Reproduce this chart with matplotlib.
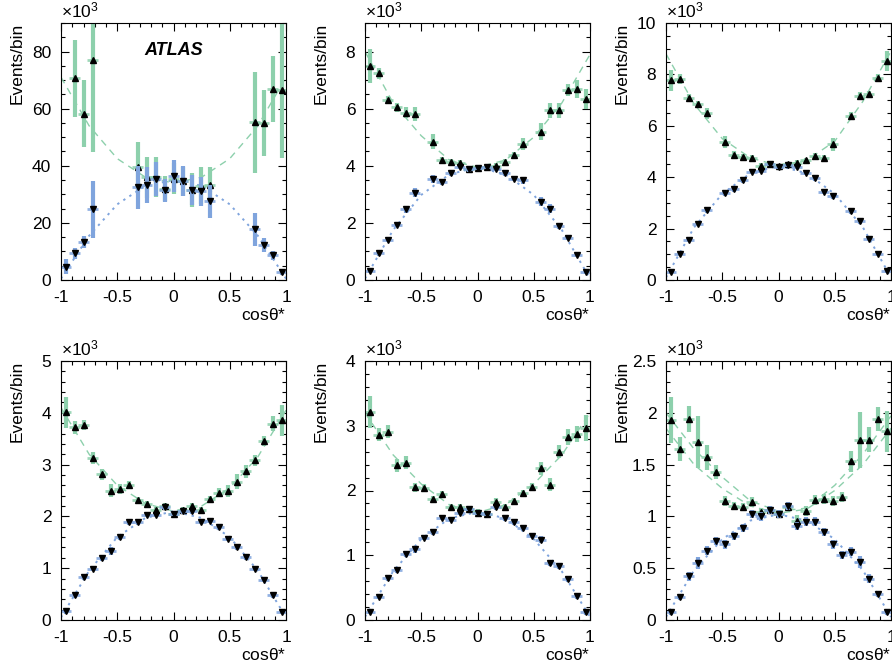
import numpy as np
import matplotlib
matplotlib.use('Agg')
import matplotlib.pyplot as plt
from matplotlib.ticker import MultipleLocator

plt.rcParams['font.family'] = ['Liberation Sans', 'DejaVu Sans']
plt.rcParams['mathtext.fontset'] = 'custom'
plt.rcParams['mathtext.rm'] = 'Liberation Sans'
plt.rcParams['mathtext.default'] = 'regular'

nan = np.nan

# 25 bins of cos(theta*) in [-1, 1]
bin_centers = np.linspace(-0.96, 0.96, 25)
bin_half = 0.045
fit_x = [-1, -0.75, -0.5, -0.25, 0, 0.25, 0.5, 0.75, 1]

# values in units of 10^3 events/bin
g1 = [nan, 70.7, 58.2, 77.2, nan, nan, nan, nan, 39.6, 36.0, 36.0, 32.0, 35.5,
      34.5, 31.5, 33.0, 33.4, nan, nan, nan, nan, 55.3, 55.0, 67.0, 66.6]
g1_err = [nan, 13.5, 11.7, 32.4, nan, nan, nan, nan, 8.7, 7.2, 7.0, 4.5, 5.5,
          5.2, 5.8, 6.5, 6.2, nan, nan, nan, nan, 17.7, 11.5, 11.6, 24.0]
b1 = [4.7, 9.3, 13.3, 24.8, nan, nan, nan, nan, 32.4, 33.1, 35.3, 31.4, 36.4,
      34.7, 31.4, 31.0, 27.5, nan, nan, nan, nan, 17.7, 12.2, 8.6, 2.9]
b1_err = [2.6, 2.0, 2.2, 10.0, nan, nan, nan, nan, 7.5, 6.3, 6.0, 4.0, 5.5,
          5.2, 5.3, 5.0, 5.8, nan, nan, nan, nan, 5.8, 2.5, 1.5, 1.0]
g1_fit = [[71, 54, 42.5, 36, 34, 36, 42.5, 54, 71]]
b1_fit = [0.5, 15.5, 26.5, 33, 35, 33, 26.5, 15.5, 0.5]

g2 = [7.5, 7.24, 6.31, 6.05, 5.86, 5.82, nan, 4.85, 4.19, 4.13, 4.11, 3.88, 3.92,
      3.96, 4.0, 4.13, 4.37, 4.77, nan, 5.2, 5.94, 5.94, 6.66, 6.69, 6.34]
g2_err = [0.6, 0.2, 0.15, 0.15, 0.2, 0.25, nan, 0.25, 0.12, 0.12, 0.1, 0.1, 0.1,
          0.1, 0.1, 0.1, 0.12, 0.2, nan, 0.3, 0.25, 0.25, 0.2, 0.3, 0.35]
b2 = [0.33, 0.93, 1.40, 1.94, 2.47, 3.06, nan, 3.53, 3.43, 3.75, 3.96, 3.87, 3.92,
      3.96, 3.90, 3.73, 3.55, 3.49, nan, 2.74, 2.50, 1.90, 1.48, 0.87, 0.29]
b2_err = [0.08, 0.08, 0.08, 0.1, 0.12, 0.15, nan, 0.15, 0.12, 0.1, 0.08, 0.08, 0.08,
          0.08, 0.1, 0.1, 0.1, 0.12, nan, 0.15, 0.15, 0.1, 0.08, 0.08, 0.08]
g2_fit = [[8.0, 6.2, 5.05, 4.2, 3.95, 4.2, 5.0, 6.2, 7.9]]
b2_fit = [0.05, 1.75, 2.98, 3.7, 3.95, 3.7, 2.98, 1.75, 0.05]

g3 = [7.77, 7.82, 7.10, 6.83, 6.48, nan, 5.37, 4.86, 4.79, 4.75, 4.44, 4.52, 4.42,
      4.50, 4.56, 4.66, 4.84, 4.75, 5.28, nan, 6.39, 7.15, 7.22, 7.86, 8.52]
g3_err = [0.4, 0.2, 0.15, 0.15, 0.2, nan, 0.25, 0.15, 0.1, 0.1, 0.1, 0.1, 0.1,
          0.1, 0.1, 0.1, 0.1, 0.12, 0.25, nan, 0.15, 0.15, 0.15, 0.15, 0.4]
b3 = [0.32, 1.01, 1.55, 2.18, 2.72, nan, 3.39, 3.54, 3.89, 4.21, 4.25, 4.51, 4.40,
      4.47, 4.40, 4.15, 3.95, 3.43, 3.28, nan, 2.68, 2.29, 1.58, 1.01, 0.35]
b3_err = [0.08, 0.08, 0.08, 0.08, 0.1, nan, 0.12, 0.1, 0.1, 0.1, 0.1, 0.08, 0.08,
          0.08, 0.08, 0.08, 0.08, 0.1, 0.12, nan, 0.1, 0.1, 0.08, 0.08, 0.08]
g3_fit = [[8.8, 6.85, 5.5, 4.75, 4.45, 4.65, 5.4, 6.95, 8.9]]
b3_fit = [0.1, 2.05, 3.35, 4.15, 4.45, 4.15, 3.35, 2.05, 0.1]

g4 = [4.01, 3.72, 3.76, 3.13, 2.81, 2.50, 2.53, 2.61, 2.31, 2.24, 2.12, 2.20, 2.05,
      2.12, 2.20, 2.13, 2.34, 2.46, 2.49, 2.67, 2.87, 3.08, 3.46, 3.79, 3.86]
g4_err = [0.3, 0.12, 0.1, 0.12, 0.1, 0.12, 0.1, 0.08, 0.06, 0.06, 0.06, 0.06, 0.06,
          0.06, 0.06, 0.06, 0.06, 0.08, 0.12, 0.15, 0.12, 0.1, 0.1, 0.15, 0.3]
b4 = [0.17, 0.48, 0.83, 0.99, 1.19, 1.33, 1.60, 1.89, 1.89, 2.03, 2.03, 2.18, 2.05,
      2.10, 2.10, 1.90, 1.92, 1.79, 1.57, 1.41, 1.22, 0.99, 0.78, 0.48, 0.16]
b4_err = [0.05, 0.05, 0.05, 0.05, 0.06, 0.08, 0.06, 0.05, 0.05, 0.05, 0.05, 0.05, 0.05,
          0.05, 0.05, 0.05, 0.05, 0.05, 0.05, 0.06, 0.06, 0.05, 0.05, 0.05, 0.05]
g4_fit = [[4.1, 3.2, 2.6, 2.25, 2.1, 2.2, 2.55, 3.15, 4.05]]
b4_fit = [0.05, 0.95, 1.6, 1.97, 2.1, 1.97, 1.6, 0.95, 0.05]

g5 = [3.21, 2.86, 2.91, 2.39, 2.43, 2.05, 2.04, 1.87, 1.95, 1.74, 1.74, 1.71, 1.66,
      1.64, 1.83, 1.74, 1.84, 1.96, 2.05, 2.34, 2.09, 2.60, 2.83, 2.87, 2.97]
g5_err = [0.25, 0.1, 0.1, 0.1, 0.1, 0.07, 0.06, 0.05, 0.05, 0.05, 0.05, 0.05, 0.05,
          0.05, 0.05, 0.05, 0.05, 0.05, 0.06, 0.1, 0.1, 0.1, 0.12, 0.12, 0.2]
b5 = [0.13, 0.36, 0.65, 0.77, 1.02, 1.09, 1.27, 1.36, 1.58, 1.55, 1.66, 1.72, 1.66,
      1.64, 1.74, 1.57, 1.51, 1.42, 1.30, 1.24, 0.88, 0.83, 0.63, 0.37, 0.12]
b5_err = [0.04, 0.04, 0.04, 0.05, 0.05, 0.05, 0.04, 0.04, 0.04, 0.04, 0.04, 0.04, 0.04,
          0.04, 0.04, 0.04, 0.04, 0.04, 0.04, 0.05, 0.05, 0.05, 0.04, 0.04, 0.04]
g5_fit = [[3.2, 2.55, 2.1, 1.78, 1.66, 1.78, 2.1, 2.55, 3.2]]
b5_fit = [0.05, 0.75, 1.25, 1.57, 1.67, 1.57, 1.25, 0.75, 0.05]

g6 = [1.93, 1.65, 1.94, 1.72, 1.57, 1.43, 1.15, 1.10, 1.09, 1.14, 1.04, 1.06, 1.02,
      1.09, 0.96, 1.05, 1.16, 1.17, 1.15, 1.19, 1.53, 1.74, 1.74, 1.94, 1.82]
g6_err = [0.22, 0.12, 0.13, 0.25, 0.12, 0.07, 0.05, 0.04, 0.04, 0.05, 0.04, 0.04, 0.04,
          0.04, 0.05, 0.05, 0.05, 0.05, 0.05, 0.05, 0.1, 0.27, 0.12, 0.12, 0.2]
b6 = [0.08, 0.22, 0.42, 0.55, 0.67, 0.76, 0.73, 0.81, 0.89, 1.02, 1.00, 1.06, 1.02,
      1.10, 0.91, 0.95, 0.95, 0.85, 0.73, 0.63, 0.66, 0.56, 0.40, 0.25, 0.08]
b6_err = [0.03, 0.03, 0.04, 0.06, 0.04, 0.04, 0.04, 0.04, 0.04, 0.04, 0.04, 0.04, 0.04,
          0.04, 0.04, 0.04, 0.04, 0.04, 0.04, 0.04, 0.04, 0.06, 0.04, 0.03, 0.03]
g6_fit = [[2.0, 1.65, 1.38, 1.15, 1.05, 1.08, 1.3, 1.6, 1.97],
          [1.85, 1.5, 1.27, 1.1, 1.03, 1.07, 1.25, 1.5, 1.85]]
b6_fit = [0.03, 0.48, 0.78, 0.96, 1.02, 0.96, 0.78, 0.48, 0.03]

GREEN = '#8dd0ac'
BLUE = '#7fa4dd'

panels = [
    (g1, g1_err, b1, b1_err, g1_fit, b1_fit, 90, 20, 5),
    (g2, g2_err, b2, b2_err, g2_fit, b2_fit, 9, 2, 0.5),
    (g3, g3_err, b3, b3_err, g3_fit, b3_fit, 10, 2, 0.5),
    (g4, g4_err, b4, b4_err, g4_fit, b4_fit, 5, 1, 0.2),
    (g5, g5_err, b5, b5_err, g5_fit, b5_fit, 4, 1, 0.2),
    (g6, g6_err, b6, b6_err, g6_fit, b6_fit, 2.5, 0.5, 0.1),
]

fig = plt.figure(figsize=(8.92, 6.69), dpi=100)
lefts = [61 / 892, 365 / 892, 666 / 892]
width = 225 / 892
rows = [(389 / 669, 257 / 669), (49 / 669, 259 / 669)]


def draw_panel(ax, g, g_err, b, b_err, g_fit, b_fit, ymax, major, minor):
    for curve in g_fit:
        ax.plot(fit_x, curve, color=GREEN, ls=(0, (5, 4)), lw=1.0)
    ax.plot(fit_x, b_fit, color=BLUE, ls=(0, (1.2, 2.5)), lw=1.4)
    xerr = np.full(len(bin_centers), bin_half)
    for vals, errs, col, mk in [(g, g_err, GREEN, '^'), (b, b_err, BLUE, 'v')]:
        ax.errorbar(bin_centers, vals, xerr=xerr, fmt='none', ecolor=col,
                    elinewidth=2.0, alpha=0.85, capsize=0)
        ax.errorbar(bin_centers, vals, yerr=errs, fmt='none', ecolor=col,
                    elinewidth=3.0, capsize=0)
        ax.plot(bin_centers, vals, ls='none', marker=mk, ms=3.8, color='black')
    ax.set_xlim(-1, 1)
    ax.set_ylim(0, ymax)
    ax.xaxis.set_major_locator(MultipleLocator(0.5))
    ax.xaxis.set_minor_locator(MultipleLocator(0.1))
    ax.yaxis.set_major_locator(MultipleLocator(major))
    ax.yaxis.set_minor_locator(MultipleLocator(minor))
    ax.xaxis.set_major_formatter(lambda v, p: '%g' % v)
    ax.yaxis.set_major_formatter(lambda v, p: '%g' % v)
    ax.tick_params(which='both', direction='in', top=True, right=True,
                   labelsize=12.5, width=0.8)
    ax.tick_params(which='major', length=6, pad=7)
    ax.tick_params(which='minor', length=3)
    for s in ax.spines.values():
        s.set_linewidth(0.8)
    ax.set_ylabel('Events/bin', fontsize=12.5, loc='top')
    ax.yaxis.set_label_coords(-0.16, 1.0)
    ax.set_xlabel(r'cos$\theta$*', fontsize=12.5, loc='right', labelpad=2)
    ax.text(0.0, 1.01, r'$\times10^{3}$', transform=ax.transAxes, fontsize=12.5,
            ha='left', va='bottom')


for k, p in enumerate(panels):
    bottom, height = rows[k // 3]
    ax = fig.add_axes([lefts[k % 3], bottom, width, height])
    draw_panel(ax, *p)
    if k == 0:
        ax.text(0.37, 0.875, 'ATLAS', transform=ax.transAxes, fontsize=13,
                fontweight='bold', fontstyle='italic')

fig.savefig('out.png', dpi=100)
